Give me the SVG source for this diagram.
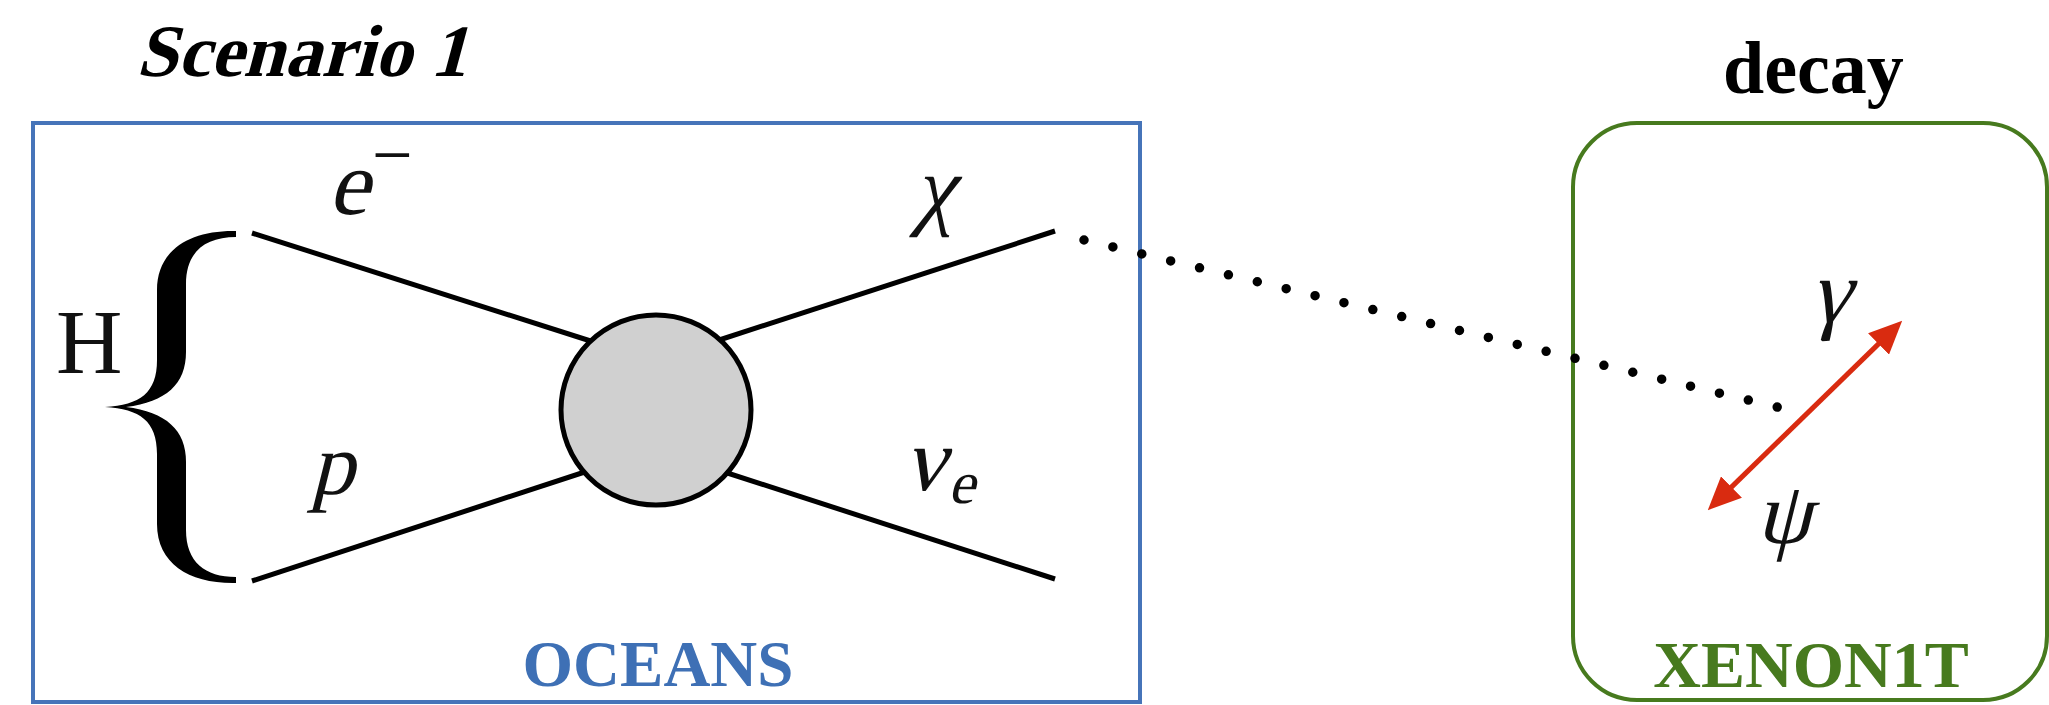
<svg xmlns="http://www.w3.org/2000/svg" width="2049" height="705" viewBox="0 0 2049 705">
<style>
.title{font-family:"Liberation Serif","Times New Roman",serif;font-weight:bold;fill:#000}
.math{font-family:"Liberation Serif","Times New Roman",serif;fill:#111}
.leg{stroke:#000;stroke-width:5;fill:none}
.lbl{font-family:"Liberation Serif","Times New Roman",serif;font-weight:bold}
</style>
<defs>
<marker id="ah" markerUnits="userSpaceOnUse" markerWidth="33" markerHeight="30" viewBox="0 0 33 30" refX="4" refY="15" orient="auto-start-reverse">
<path d="M0,0 L33,15 L0,30 z" fill="#d92b10"/>
</marker>
</defs>
<rect width="2049" height="705" fill="#fff"/>
<text class="title" transform="translate(136,76) skewX(-15)" font-size="74">Scenario 1</text>
<text class="title" x="1723" y="93" font-size="74">decay</text>
<g id="oceans">
<rect x="33" y="123" width="1107" height="579" fill="none" stroke="#4674b9" stroke-width="4"/>
<text class="lbl" x="658" y="686" font-size="65" text-anchor="middle" fill="#3e70b5">OCEANS</text>
</g>
<g id="xenon1t">
<rect x="1573" y="123" width="474" height="577" rx="64" ry="64" fill="none" stroke="#477a1e" stroke-width="4"/>
<text class="lbl" x="1811" y="687" font-size="66" text-anchor="middle" fill="#477a1e">XENON1T</text>
</g>
<g id="hydrogen">
<text x="56" y="373" font-size="92" font-family="Liberation Serif, Times New Roman, serif" fill="#111">H</text>
<path d="M236,231 C190,230 157,250 157,290 L157,360 C157,393 140,405 105,407 C140,409 157,421 157,454 L157,524 C157,564 190,584 236,583 L236,577 C205,577 186,562 186,530 L186,462 C186,430 166,412 126,407 C166,402 186,384 186,352 L186,284 C186,252 205,237 236,237 Z" fill="#000"/>
</g>
<g id="connectors">
<line class="leg" x1="252" y1="233" x2="600" y2="344"/>
<line class="leg" x1="252" y1="581" x2="600" y2="467"/>
<line class="leg" x1="710" y1="343" x2="1055" y2="231"/>
<line class="leg" x1="712" y1="468" x2="1055" y2="579"/>
<line x1="1728.6" y1="489.9" x2="1881.4" y2="341.1" stroke="#d92b10" stroke-width="5" marker-start="url(#ah)" marker-end="url(#ah)"/>
<line x1="1084" y1="240" x2="1806" y2="414" stroke="#000" stroke-width="9.5" stroke-linecap="round" stroke-dasharray="0 29.71"/>
</g>
<g id="vertex">
<circle cx="656" cy="410" r="95" fill="#d0d0d0" stroke="#000" stroke-width="5"/>
</g>
<g id="labels">
<text class="math" transform="translate(328,214) skewX(-14)" font-size="92">e</text>
<text class="math" x="372" y="179" font-size="72">−</text>
<text class="math" transform="translate(310,494) skewX(-14)" font-size="88">p</text>
<text class="math" transform="translate(914,218) skewX(-14)" font-size="90">χ</text>
<text class="math" transform="translate(904,490) skewX(-14)" font-size="90">ν</text>
<text class="math" transform="translate(948,503) skewX(-14)" font-size="60">e</text>
<text class="math" transform="translate(1810,322) skewX(-14)" font-size="90">γ</text>
<text class="math" transform="translate(1756,543) skewX(-14)" font-size="88">ψ</text>
</g>
</svg>
